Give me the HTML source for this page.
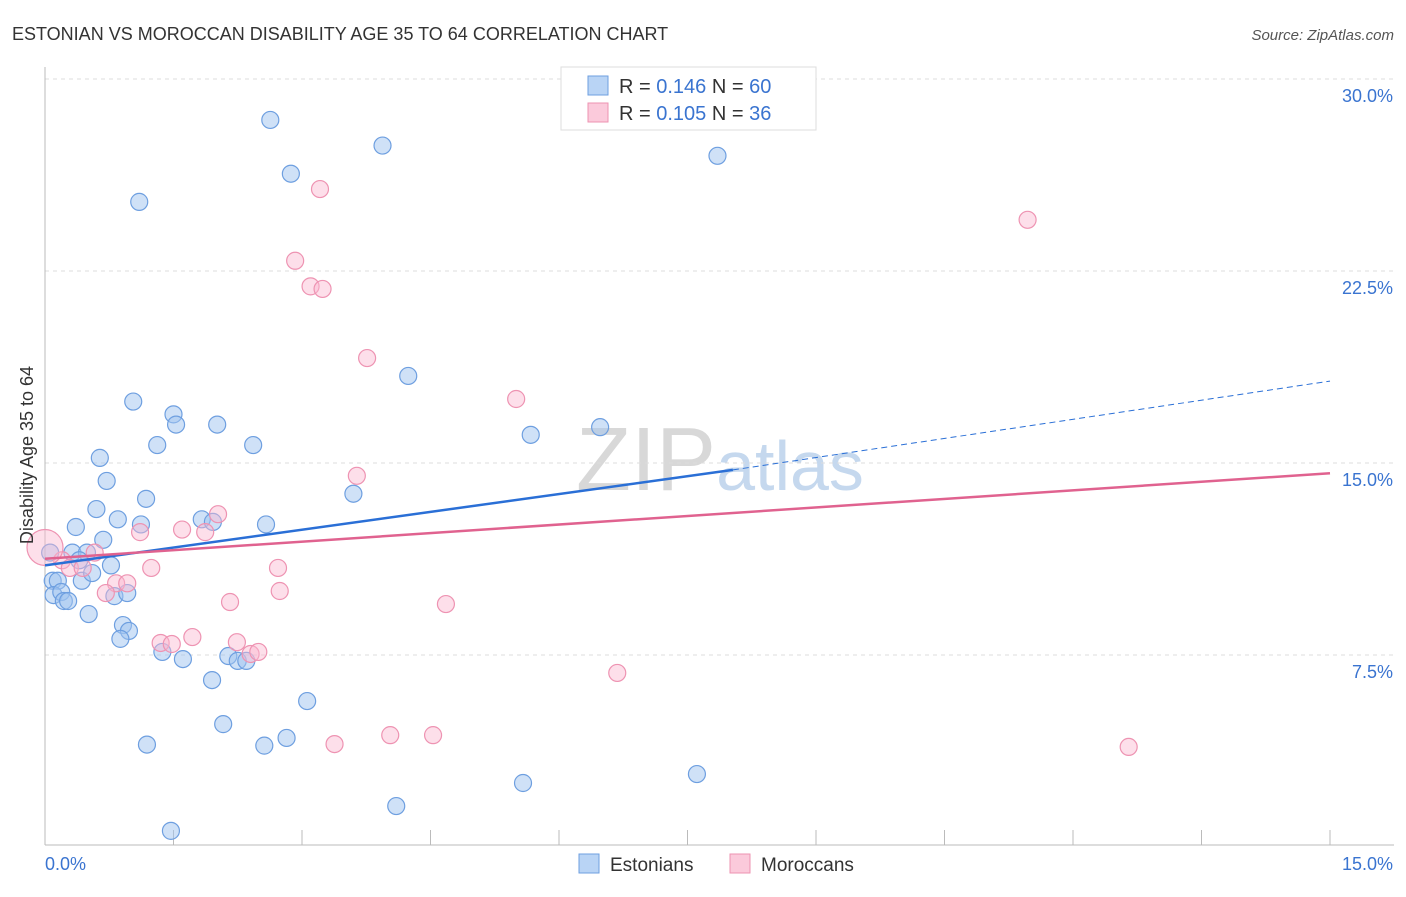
<!DOCTYPE html>
<html><head><meta charset="utf-8"><style>
body{margin:0;background:#fff;font-family:"Liberation Sans",sans-serif}
svg text{font-family:"Liberation Sans",sans-serif}
</style></head><body>
<svg id="chart" width="1406" height="892" xmlns="http://www.w3.org/2000/svg">
<text x="12" y="40" font-size="18" fill="#333">ESTONIAN VS MOROCCAN DISABILITY AGE 35 TO 64 CORRELATION CHART</text>
<text x="1394" y="40" font-size="15" fill="#555" text-anchor="end" font-style="italic">Source: ZipAtlas.com</text>
<text x="720" y="490" font-size="90" fill="#d8d8d8" text-anchor="middle" font-family="Liberation Serif">ZIP<tspan fill="#c5d8ee" font-family="Liberation Sans" font-size="70">atlas</tspan></text>
<g id="grid"></g><g id="axes"></g><g id="pts"></g><g id="lines"></g>
<text transform="translate(33,455) rotate(-90)" font-size="18" fill="#333" text-anchor="middle">Disability Age 35 to 64</text>
<g>
<rect x="561" y="67" width="255" height="63" fill="#fff" stroke="#ddd"/>
<rect x="588" y="76" width="20" height="19" fill="#b9d4f5" stroke="#6e9fe0"/>
<rect x="588" y="103" width="20" height="19" fill="#fbcadb" stroke="#ee93b2"/>
<text x="619" y="93" font-size="20" fill="#333">R = <tspan fill="#3a74d0">0.146</tspan>   N = <tspan fill="#3a74d0">60</tspan></text>
<text x="619" y="120" font-size="20" fill="#333">R = <tspan fill="#3a74d0">0.105</tspan>   N = <tspan fill="#3a74d0">36</tspan></text>
</g>
<g>
<rect x="579" y="854" width="20" height="19" fill="#b9d4f5" stroke="#6e9fe0"/>
<text x="610" y="871" font-size="19" fill="#333">Estonians</text>
<rect x="730" y="854" width="20" height="19" fill="#fbcadb" stroke="#ee93b2"/>
<text x="761" y="871" font-size="19" fill="#333">Moroccans</text>
</g>
</svg>
<script>
const NS="http://www.w3.org/2000/svg";
const yTicks=[7.5,15,22.5,30];
const yTickLabels=["7.5%","15.0%","22.5%","30.0%"];
const xTickLabels=["0.0%","15.0%"];
const estX=[1.1,2.63,2.87,3.94,7.85,4.24,1.03,1.5,1.53,2.01,1.31,2.43,5.67,6.48,0.64,0.72,1.18,0.6,3.6,0.36,0.85,1.12,1.83,1.96,2.58,0.68,0.32,0.49,0.4,0.77,0.06,0.09,0.15,0.43,0.55,0.1,0.19,0.22,0.27,0.81,0.96,0.51,0.91,0.98,0.88,1.37,1.61,1.95,2.14,2.25,2.35,3.06,2.08,1.19,2.56,2.82,5.58,7.61,4.1,1.47];
const estY=[25.2,28.4,26.3,27.4,27.0,18.4,17.4,16.9,16.5,16.5,15.7,15.7,16.1,16.4,15.2,14.3,13.6,13.2,13.8,12.5,12.8,12.6,12.8,12.7,12.6,12.0,11.5,11.5,11.2,11.0,11.5,10.4,10.4,10.4,10.7,9.84,9.96,9.61,9.61,9.8,9.92,9.1,8.67,8.44,8.13,7.62,7.34,6.52,7.46,7.27,7.27,5.7,4.8,4.0,3.96,4.26,2.5,2.85,1.6,0.63];
const morX=[3.21,2.92,3.1,3.24,3.76,11.47,5.5,3.64,2.02,1.6,1.11,1.87,0.58,0.2,0.29,1.24,0.44,0.83,0.96,0.71,2.72,2.74,2.16,4.68,1.35,1.48,1.72,2.24,2.4,2.49,6.68,3.38,4.03,4.53,12.65,0.0];
const morY=[25.7,22.9,21.9,21.8,19.1,24.5,17.5,14.5,13.0,12.4,12.3,12.3,11.5,11.2,10.9,10.9,10.9,10.3,10.3,9.92,10.9,10.0,9.57,9.49,7.97,7.93,8.2,8.0,7.54,7.62,6.8,4.02,4.37,4.37,3.91,11.7];
const estTrend=[11.0,14.73];const estTrendEnd=18.2;
const morTrend=[11.26,14.6];
const X=v=>45+v/15*1285, Y=v=>847-v/7.5*192;
function mk(t,a,p){const e=document.createElementNS(NS,t);for(const k in a)e.setAttribute(k,a[k]);document.getElementById(p).appendChild(e);return e;}
yTicks.forEach((t,i)=>{
 const g=mk('line',{x1:45,x2:1394,y1:Y(t),y2:Y(t),stroke:'#ddd','stroke-dasharray':'4,4'},'grid');
 
 
 const l=mk('text',{x:1393,y:Y(t)+23,'font-size':18,fill:'#3a74d0','text-anchor':'end'},'axes');l.textContent=yTickLabels[i];
 
 
});
mk('line',{x1:45,x2:1394,y1:845,y2:845,stroke:'#bbb'},'axes');
mk('line',{x1:45,x2:45,y1:67,y2:845,stroke:'#bbb'},'axes');
for(let i=0;i<=10;i++){const x=45+i*128.5;mk('line',{x1:x,x2:x,y1:830,y2:845,stroke:'#bbb'},'axes');}
xTickLabels.forEach((s,i)=>{const l=mk('text',{x:i?1393:45,y:870,'font-size':18,fill:'#3a74d0','text-anchor':i?'end':'start'},'axes');l.textContent=s;
 
 });
estX.forEach((v,i)=>{const c=mk('circle',{cx:X(v),cy:Y(estY[i]),r:8.5,fill:'rgba(160,196,240,0.5)',stroke:'#6e9fe0','stroke-width':1.2},'pts');
 
 });
morX.forEach((v,i)=>{const c=mk('circle',{cx:X(v),cy:Y(morY[i]),r:i==35?18:8.5,fill:'rgba(250,185,208,0.45)',stroke:'#ee93b2','stroke-width':1.2},'pts');
 
 });
let l=mk('line',{x1:X(0),y1:Y(estTrend[0]),x2:X(8.03),y2:Y(estTrend[1]),stroke:'#2a6fd6','stroke-width':2.5},'lines');


l=mk('line',{x1:X(8.03),y1:Y(estTrend[1]),x2:X(15),y2:Y(estTrendEnd),stroke:'#2a6fd6','stroke-width':1,'stroke-dasharray':'6,4'},'lines');


l=mk('line',{x1:X(0),y1:Y(morTrend[0]),x2:X(15),y2:Y(morTrend[1]),stroke:'#e0628f','stroke-width':2.5},'lines');


</script>
</body></html>
